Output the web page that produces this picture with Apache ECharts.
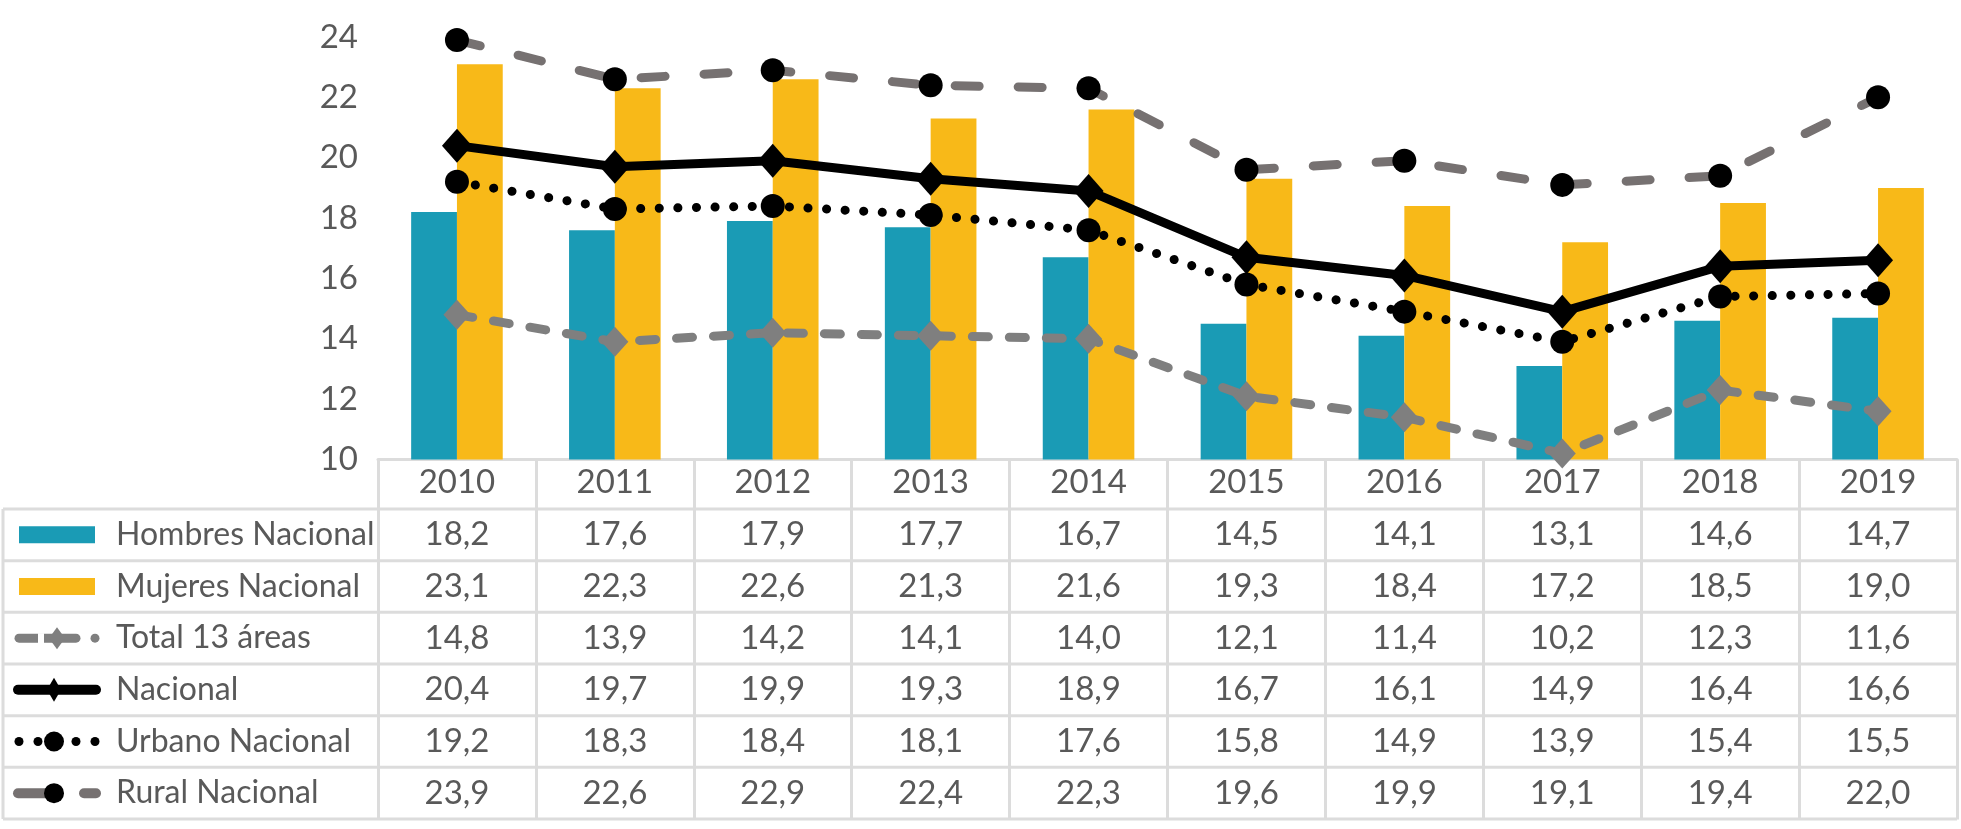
<!DOCTYPE html>
<html>
<head>
<meta charset="utf-8">
<script src="https://cdn.jsdelivr.net/npm/echarts@6/dist/echarts.min.js"></script>
<style>
html,body{margin:0;padding:0;background:#fff;}
#c{width:1961px;height:829px;}
</style>
</head>
<body>
<div id="c"></div>
<script>
const years = ['2010','2011','2012','2013','2014','2015','2016','2017','2018','2019'];
const hombresNacional = [18.2,17.6,17.9,17.7,16.7,14.5,14.1,13.1,14.6,14.7];
const mujeresNacional = [23.1,22.3,22.6,21.3,21.6,19.3,18.4,17.2,18.5,19.0];
const total13Areas = [14.8,13.9,14.2,14.1,14.0,12.1,11.4,10.2,12.3,11.6];
const nacional = [20.4,19.7,19.9,19.3,18.9,16.7,16.1,14.9,16.4,16.6];
const urbanoNacional = [19.2,18.3,18.4,18.1,17.6,15.8,14.9,13.9,15.4,15.5];
const ruralNacional = [23.9,22.6,22.9,22.4,22.3,19.6,19.9,19.1,19.4,22.0];
const yTicks = {min:10, max:24, interval:2};

const FONT = 'Lato';
const TXT = '#595959';
const GRID_LINE = '#DCDCDC';
const BLUE = '#1A9BB5';
const GOLD = '#F8B918';
const GRAY = '#7F7F7F';
const GRAY2 = '#767171';

const rows = [
  {name:'Hombres Nacional', data:hombresNacional, key:'bar1'},
  {name:'Mujeres Nacional', data:mujeresNacional, key:'bar2'},
  {name:'Total 13 áreas', data:total13Areas, key:'total'},
  {name:'Nacional', data:nacional, key:'nac'},
  {name:'Urbano Nacional', data:urbanoNacional, key:'urb'},
  {name:'Rural Nacional', data:ruralNacional, key:'rur'}
];

const chart = echarts.init(document.getElementById('c'), null, {renderer:'canvas'});
const GRID = {left:378, right:4, top:37, bottom:369.5};
const TABLE_TOP = 509, TABLE_BOTTOM = 819, TABLE_LEFT = 3, TABLE_RIGHT = 1957;

chart.setOption({
  animation:false,
  backgroundColor:'#fff',
  textStyle:{fontFamily:FONT},
  grid:GRID,
  xAxis:{
    type:'category', data:years, boundaryGap:true,
    axisLine:{show:true, lineStyle:{color:GRID_LINE, width:3}},
    axisTick:{show:true, interval:0, length:360, lineStyle:{color:GRID_LINE, width:3}},
    axisLabel:{color:TXT, fontSize:33, fontFamily:FONT, margin:6, interval:0},
    splitLine:{show:false}
  },
  yAxis:{
    type:'value', min:yTicks.min, max:yTicks.max, interval:yTicks.interval,
    axisLine:{show:false}, axisTick:{show:false}, splitLine:{show:false},
    axisLabel:{color:TXT, fontSize:33, fontFamily:FONT, margin:20}
  },
  series:[
    {name:'Hombres Nacional', type:'bar', data:hombresNacional, barGap:'0%', barCategoryGap:'42%', itemStyle:{color:BLUE}, z:1},
    {name:'Mujeres Nacional', type:'bar', data:mujeresNacional, itemStyle:{color:GOLD}, z:1},
    {name:'Total 13 áreas', type:'line', data:total13Areas, symbol:'diamond', symbolSize:[27,30],
      itemStyle:{color:GRAY}, lineStyle:{color:GRAY, width:9, type:[16,21], cap:'round'}, z:3},
    {name:'Nacional', type:'line', data:nacional, symbol:'diamond', symbolSize:[30,34],
      itemStyle:{color:'#000'}, lineStyle:{color:'#000', width:9}, z:4},
    {name:'Urbano Nacional', type:'line', data:urbanoNacional, symbol:'circle', symbolSize:24,
      itemStyle:{color:'#000'}, lineStyle:{color:'#000', width:9, type:[0.1,18.5], cap:'round'}, z:4},
    {name:'Rural Nacional', type:'line', data:ruralNacional, symbol:'circle', symbolSize:24,
      itemStyle:{color:'#000'}, lineStyle:{color:GRAY2, width:9, type:[24,39], cap:'round'}, z:3}
  ]
});

// build data table
const rowH = (TABLE_BOTTOM - TABLE_TOP) / rows.length;
const g = [];
for (let r = 0; r <= rows.length; r++) {
  const y = TABLE_TOP + r * rowH;
  g.push({type:'line', shape:{x1:TABLE_LEFT, y1:y, x2:TABLE_RIGHT, y2:y}, style:{stroke:GRID_LINE, lineWidth:3}});
}
g.push({type:'line', shape:{x1:TABLE_LEFT, y1:TABLE_TOP, x2:TABLE_LEFT, y2:TABLE_BOTTOM}, style:{stroke:GRID_LINE, lineWidth:3}});

const fmt = v => v.toFixed(1).replace('.', ',');
rows.forEach((row, r) => {
  const cy = TABLE_TOP + (r + 0.5) * rowH;
  g.push({type:'text', style:{text:row.name, x:116, y:cy, fill:TXT, font:'32px ' + FONT, textVerticalAlign:'middle', verticalAlign:'middle'}});
  row.data.forEach((v, i) => {
    const cx = chart.convertToPixel({xAxisIndex:0}, i);
    g.push({type:'text', style:{text:fmt(v), x:cx, y:cy, fill:TXT, font:'33px ' + FONT, align:'center', textAlign:'center', verticalAlign:'middle', textVerticalAlign:'middle'}});
  });
  // legend keys
  if (row.key === 'bar1' || row.key === 'bar2') {
    g.push({type:'rect', shape:{x:19, y:cy - 8.5, width:76, height:17}, style:{fill: row.key === 'bar1' ? BLUE : GOLD}});
  } else if (row.key === 'total') {
    g.push({type:'line', shape:{x1:19, y1:cy, x2:76, y2:cy}, style:{stroke:GRAY, lineWidth:9, lineCap:'round'}});
    g.push({type:'line', shape:{x1:38, y1:cy, x2:44, y2:cy}, style:{stroke:'#fff', lineWidth:10}});
    g.push({type:'polygon', shape:{points:[[57,cy-11],[65,cy],[57,cy+11],[49,cy]]}, style:{fill:GRAY}});
    g.push({type:'circle', shape:{cx:95, cy:cy, r:4.5}, style:{fill:GRAY}});
  } else if (row.key === 'nac') {
    g.push({type:'line', shape:{x1:18, y1:cy, x2:96, y2:cy}, style:{stroke:'#000', lineWidth:10, lineCap:'round'}});
    g.push({type:'polygon', shape:{points:[[54,cy-12],[61,cy],[54,cy+12],[47,cy]]}, style:{fill:'#000'}});
  } else if (row.key === 'urb') {
    [19, 38, 76, 95].forEach(x => g.push({type:'circle', shape:{cx:x, cy:cy, r:4.5}, style:{fill:'#000'}}));
    g.push({type:'circle', shape:{cx:54, cy:cy, r:10}, style:{fill:'#000'}});
  } else if (row.key === 'rur') {
    g.push({type:'line', shape:{x1:18, y1:cy, x2:48, y2:cy}, style:{stroke:GRAY2, lineWidth:10, lineCap:'round'}});
    g.push({type:'line', shape:{x1:84, y1:cy, x2:96, y2:cy}, style:{stroke:GRAY2, lineWidth:10, lineCap:'round'}});
    g.push({type:'circle', shape:{cx:54, cy:cy, r:10}, style:{fill:'#000'}});
  }
});
chart.setOption({graphic:{elements:g}});
</script>
</body>
</html>
